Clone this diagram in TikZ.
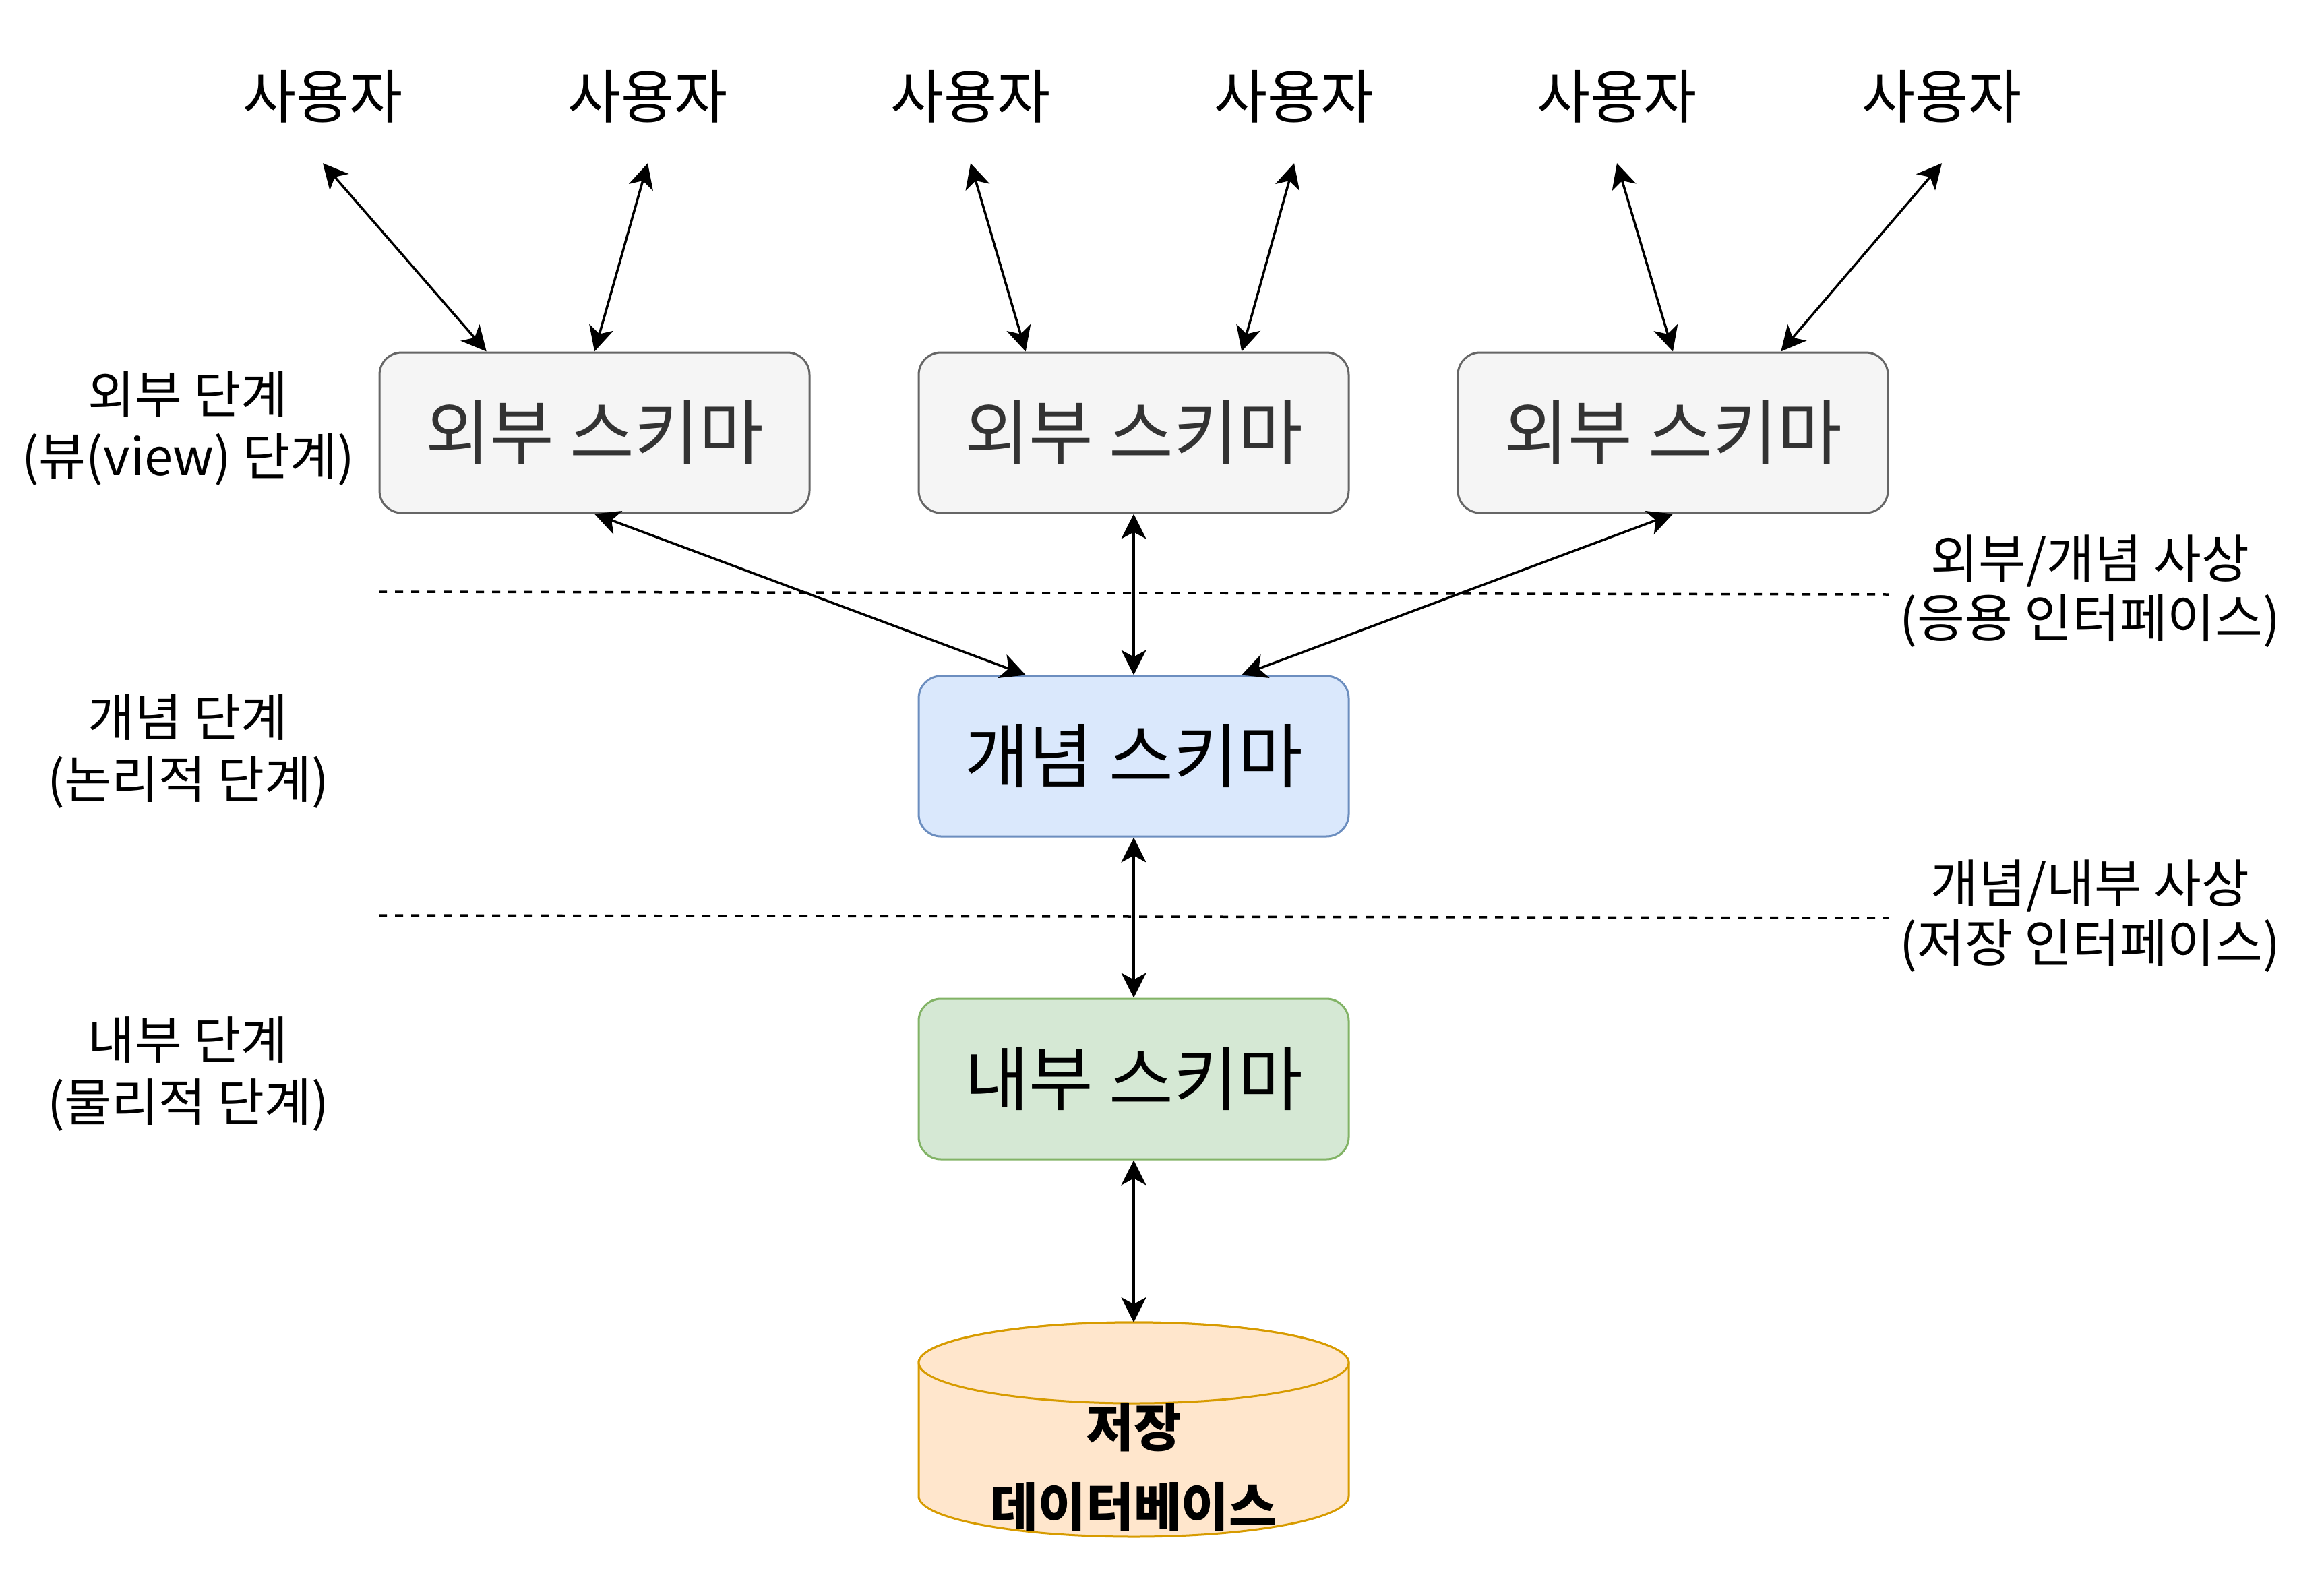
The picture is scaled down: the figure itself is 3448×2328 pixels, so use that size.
\documentclass[tikz,border=0pt]{standalone}
\usepackage{fontspec}
\setmainfont{Noto Sans CJK KR}
\usetikzlibrary{arrows.meta,calc}
\definecolor{extfill}{HTML}{F5F5F5}
\definecolor{extdraw}{HTML}{666666}
\definecolor{exttext}{HTML}{333333}
\definecolor{confill}{HTML}{DAE8FC}
\definecolor{condraw}{HTML}{6C8EBF}
\definecolor{intfill}{HTML}{D5E8D4}
\definecolor{intdraw}{HTML}{82B366}
\definecolor{dbfill}{HTML}{FFE6CC}
\definecolor{dbdraw}{HTML}{D79B00}
\tikzset{
  user/.style={inner sep=0pt, minimum height=198pt, font=\fontsize{86}{100}\selectfont},
  schema/.style={rounded corners=33pt, line width=3pt, minimum width=638pt, minimum height=238pt, inner sep=0pt, font=\fontsize{104}{118}\selectfont},
  extbox/.style={schema, fill=extfill, draw=extdraw, text=exttext},
  conbox/.style={schema, fill=confill, draw=condraw},
  intbox/.style={schema, fill=intfill, draw=intdraw},
  levellabel/.style={align=center, inner sep=0pt, font=\fontsize{76}{92}\selectfont},
  maplabel/.style={align=center, inner sep=0pt, font=\fontsize{77}{88}\selectfont},
  link/.style={line width=3.5pt, {Stealth[length=37pt, width=37pt, inset=10pt]}-{Stealth[length=37pt, width=37pt, inset=10pt]}},
  sep/.style={line width=3.5pt, dash pattern=on 12pt off 12pt}
}
\begin{document}
\begin{tikzpicture}[x=1pt, y=-1pt]
\useasboundingbox (0,0) rectangle (3448,2328);
% users
\node[user] (u1) at (479,143) {사용자};
\node[user] (u2) at (961,143) {사용자};
\node[user] (u3) at (1440,143) {사용자};
\node[user] (u4) at (1920,143) {사용자};
\node[user] (u5) at (2399,143) {사용자};
\node[user] (u6) at (2881,143) {사용자};
% external schemas
\node[extbox] (e1) at (882,642) {외부 스키마};
\node[extbox] (e2) at (1682,642) {외부 스키마};
\node[extbox] (e3) at (2482,642) {외부 스키마};
% conceptual / internal
\node[conbox] (c) at (1682,1122) {개념 스키마};
\node[intbox] (i) at (1682,1601) {내부 스키마};
% database cylinder
\path[fill=dbfill, draw=dbdraw, line width=3pt]
  (1363,2022) -- (1363,2220) arc[start angle=180, end angle=0, x radius=319, y radius=60]
  -- (2001,2022) arc[start angle=0, end angle=-180, x radius=319, y radius=60] -- cycle;
\draw[fill=dbfill, draw=dbdraw, line width=3pt] (1682,2022) ellipse[x radius=319, y radius=60];
\coordinate (dbtop) at (1682,1962);
\node[align=center, inner sep=0pt, font=\fontsize{77}{118}\selectfont\bfseries] (db) at (1682,2177) {저장\\데이터베이스};
% level labels
\node[levellabel] (l1) at (279,636) {외부 단계\\(뷰(view) 단계)};
\node[levellabel] (l2) at (279,1115) {개념 단계\\(논리적 단계)};
\node[levellabel] (l3) at (279,1594) {내부 단계\\(물리적 단계)};
% mapping labels
\node[maplabel] (m1) at (3101,877) {외부/개념 사상\\(응용 인터페이스)};
\node[maplabel] (m2) at (3101,1359) {개념/내부 사상\\(저장 인터페이스)};
% separators
\draw[sep] (562,878) -- (2802,882);
\draw[sep] (562,1358) -- (2802,1362);
% connectors
\draw[link] (u1.south) -- ($(e1.north west)!0.25!(e1.north east)$);
\draw[link] (u2.south) -- (e1.north);
\draw[link] (u3.south) -- ($(e2.north west)!0.25!(e2.north east)$);
\draw[link] (u4.south) -- ($(e2.north west)!0.75!(e2.north east)$);
\draw[link] (u5.south) -- (e3.north);
\draw[link] (u6.south) -- ($(e3.north west)!0.75!(e3.north east)$);
\draw[link] (e1.south) -- ($(c.north west)!0.25!(c.north east)$);
\draw[link] (e2.south) -- (c.north);
\draw[link] (e3.south) -- ($(c.north west)!0.75!(c.north east)$);
\draw[link] (c.south) -- (i.north);
\draw[link] (i.south) -- (dbtop);
\end{tikzpicture}
\end{document}
